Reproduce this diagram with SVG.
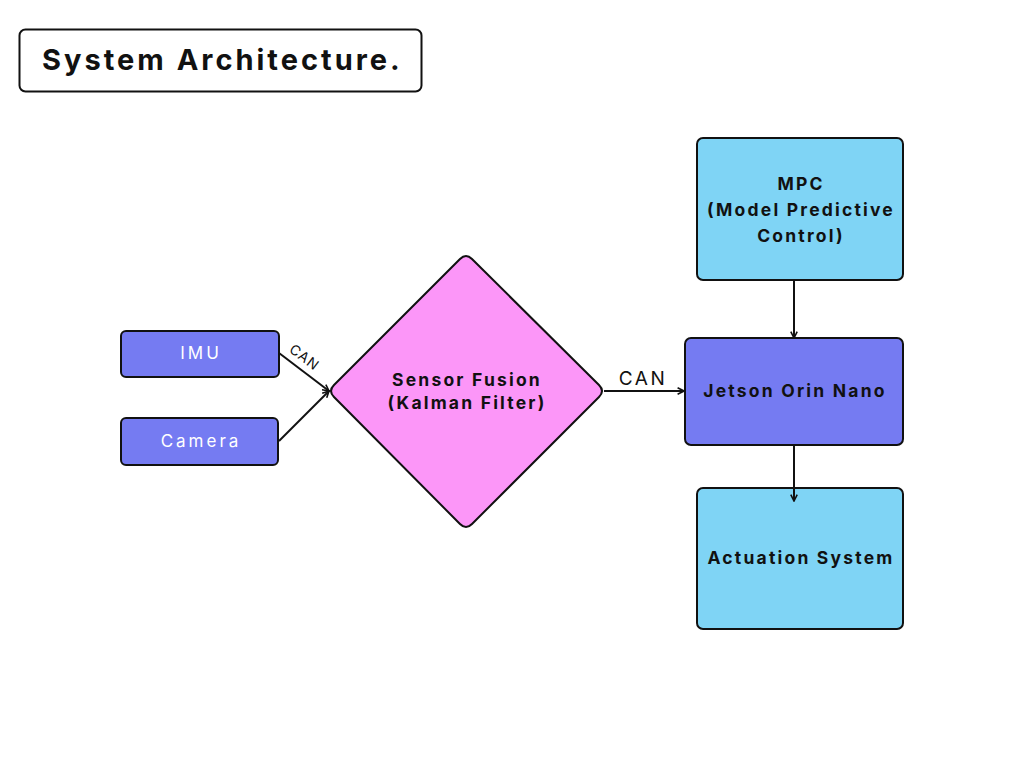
<svg xmlns="http://www.w3.org/2000/svg" width="1024" height="768" viewBox="0 0 1024 768">
<style>
.box{stroke:#111;stroke-width:2}
.blue{fill:#757BF2}
.cyan{fill:#7FD4F5}
.t{font-family:Inter,"Open Sans","Liberation Sans",sans-serif;text-anchor:middle}
.b{font-weight:700;fill:#111;font-size:17.5px;letter-spacing:2.2px}
.w{fill:#fff;font-size:17px;letter-spacing:3px}
.edge{stroke:#111;stroke-width:2;fill:none}
</style>
<defs>
<marker id="ah" viewBox="0 0 10 10" refX="9" refY="5" markerWidth="8" markerHeight="8" markerUnits="userSpaceOnUse" orient="auto">
<path d="M1,1 L9,5 L1,9" fill="none" stroke="#111" stroke-width="2"/>
</marker>
</defs>
<rect width="1024" height="768" fill="#fff"/>
<g id="title">
<rect x="19.5" y="29.5" width="402" height="62" rx="6" fill="#fff" stroke="#111" stroke-width="2"/>
<text x="42" y="70" font-family="Inter,'Open Sans','Liberation Sans',sans-serif" font-weight="700" font-size="29" letter-spacing="3" fill="#111">System Architecture.</text>
</g>
<g id="imu">
<rect class="box blue" x="121" y="331" width="158" height="46" rx="5"/>
<text class="t w" x="201" y="359">IMU</text>
</g>
<g id="camera">
<rect class="box blue" x="121" y="418" width="157" height="47" rx="5"/>
<text class="t w" x="201" y="447">Camera</text>
</g>
<g id="fusion">
<path d="M472,259 L599,385 Q605,391 599,397 L472,524 Q466,530 460,524 L334,397 Q328,391 334,385 L460,259 Q466,253 472,259 Z" fill="#FC96F8" stroke="#111" stroke-width="2"/>
<text class="t b" x="467" y="386">Sensor Fusion</text>
<text class="t b" x="467" y="409">(Kalman Filter)</text>
</g>
<g id="mpc">
<rect class="box cyan" x="697" y="138" width="206" height="142" rx="6"/>
<text class="t b" x="801" y="190">MPC</text>
<text class="t b" x="801" y="216">(Model Predictive</text>
<text class="t b" x="801" y="242">Control)</text>
</g>
<g id="jetson">
<rect class="box blue" x="685" y="338" width="218" height="107" rx="6"/>
<text class="t b" x="795" y="397">Jetson Orin Nano</text>
</g>
<g id="actuation">
<rect class="box cyan" x="697" y="488" width="206" height="141" rx="6"/>
<text class="t b" x="801" y="564">Actuation System</text>
</g>
<g id="connectors">
<line class="edge" x1="279" y1="353" x2="329" y2="391" marker-end="url(#ah)"/>
<line class="edge" x1="279" y1="441" x2="329" y2="391" marker-end="url(#ah)"/>
<line class="edge" x1="604" y1="391" x2="684" y2="391" marker-end="url(#ah)"/>
<line class="edge" x1="794" y1="280" x2="794" y2="338" marker-end="url(#ah)"/>
<line class="edge" x1="794" y1="445" x2="794" y2="501" marker-end="url(#ah)"/>
<text class="t" x="304" y="362" font-size="14" fill="#111" letter-spacing="1" transform="rotate(37 304 358)">CAN</text>
<text class="t" x="643" y="385" font-size="19" fill="#111" letter-spacing="2.5">CAN</text>
</g>
</svg>
